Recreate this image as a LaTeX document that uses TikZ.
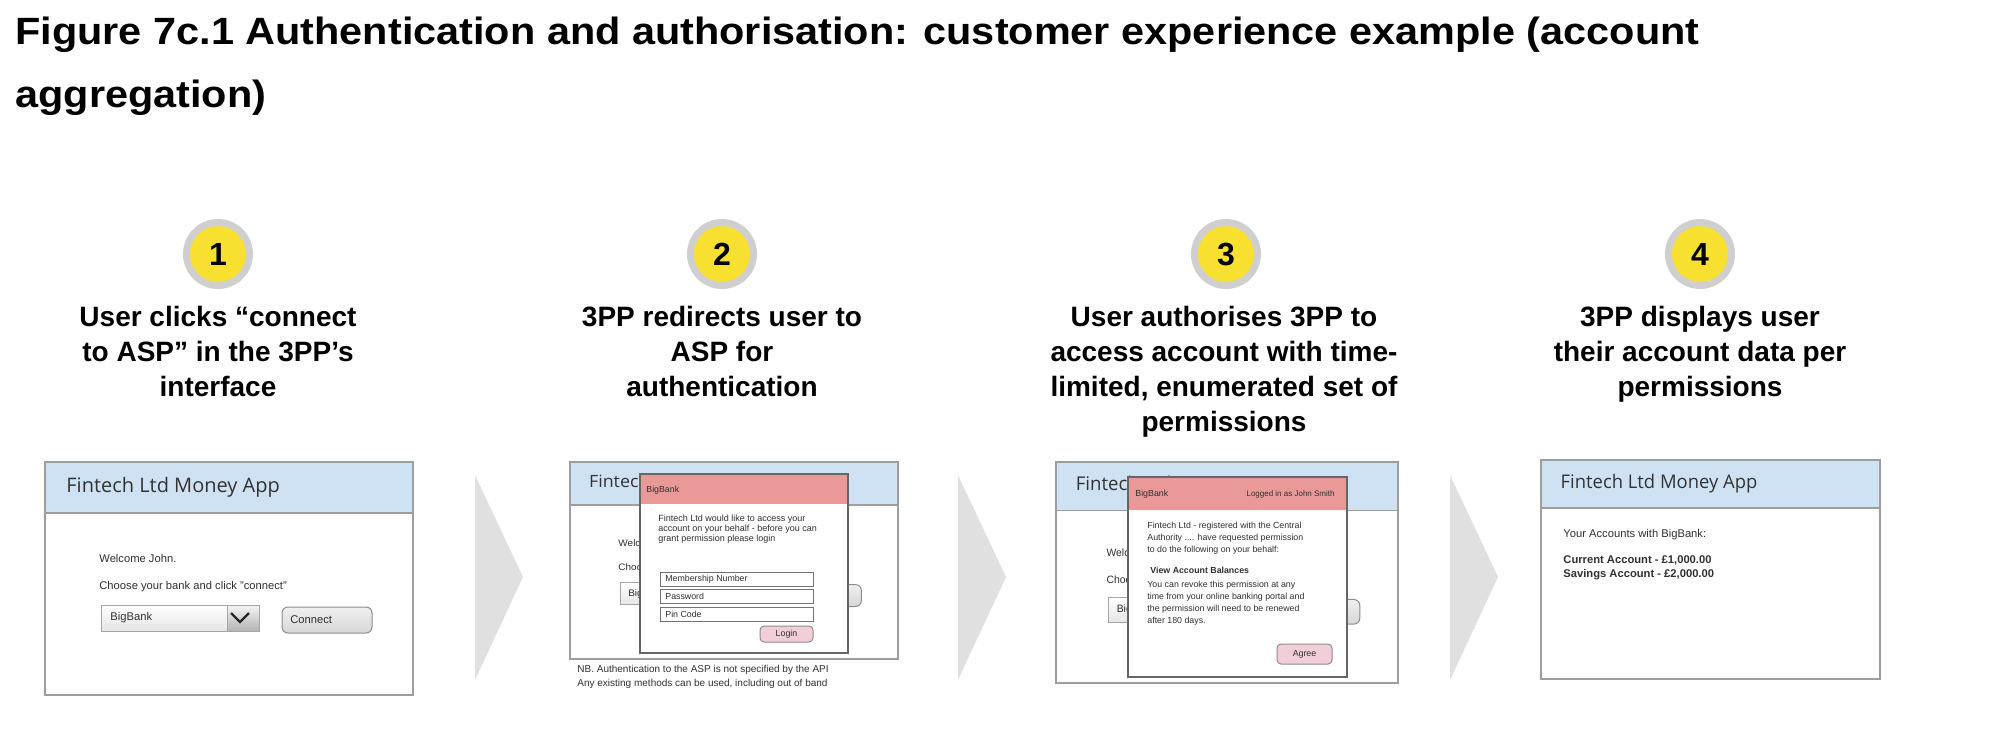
\documentclass[tikz,border=0pt]{standalone}
\usepackage{fontspec}
\setmainfont{Liberation Sans}
\newfontfamily\appfont{Open Sans}
\newfontfamily\figfont[FakeStretch=1.09]{Liberation Sans}
\usetikzlibrary{positioning,calc}

\definecolor{headblue}{HTML}{CFE2F3}
\definecolor{framegray}{HTML}{9E9E9E}
\definecolor{bankred}{HTML}{EA9999}
\definecolor{btnpink}{HTML}{F2CFD8}
\definecolor{chevgray}{HTML}{E0E0E0}
\definecolor{ringgray}{HTML}{CFCFCF}
\definecolor{stepyellow}{HTML}{F8E030}
\definecolor{mocktext}{HTML}{303030}

\tikzset{
  figtitle/.style={anchor=north west, inner sep=0pt, align=left,
    font=\figfont\fontsize{19}{31.5}\selectfont\bfseries},
  stepnum/.style={circle, fill=stepyellow, draw=ringgray, line width=3.5pt,
    minimum size=31.5pt, inner sep=0pt, font=\fontsize{16}{16}\selectfont\bfseries},
  steplabel/.style={anchor=north, inner sep=0pt, align=center,
    font=\fontsize{14}{17.5}\selectfont\bfseries},
  chevron/.style={fill=chevgray},
  appbox/.style={draw=framegray, line width=0.8pt},
  apptitle/.style={anchor=west, inner sep=0pt, text=black!80,
    font=\appfont\fontsize{10}{12}\selectfont},
  mocktxt/.style={anchor=west, inner sep=0pt, text=mocktext,
    font=\fontsize{5.6}{7}\selectfont},
  poptxt/.style={anchor=north west, inner sep=0pt, align=left, text=mocktext,
    font=\fontsize{4.4}{6}\selectfont},
  popbox/.style={draw=black!60, line width=0.6pt},
  field/.style={draw=black!55, fill=white, line width=0.4pt},
  btn/.style={draw=black!45, rounded corners=2pt, line width=0.5pt},
  % the money app screen, drawn at the size of the first screen
  pics/appframe/.style={code={
    \fill[white] (0,0) rectangle (368,233);
    \fill[headblue] (0,0) rectangle (368,51);
    \draw[appbox] (0,0) rectangle (368,233) (0,51) -- (368,51);
    \node[apptitle] (-title) at (21,25) {Fintech Ltd Money App};
  }},
  pics/appbody/.style={code={
    \node[mocktxt] (-welcome) at (54,96) {Welcome John.};
    \node[mocktxt] (-choose) at (54,125) {Choose your bank and click "connect"};
    \shadedraw[draw=black!35, line width=0.4pt, top color=white, bottom color=black!10] (56,143) rectangle (182,169);
    \shadedraw[draw=black!35, line width=0.4pt, top color=black!4, bottom color=black!30] (182,143) rectangle (214,169);
    \draw[black!85, line width=1.1pt] (186,151) -- (195,160) -- (204,151);
    \node[mocktxt] (-bank) at (65,156) {BigBank};
    \shadedraw[draw=black!45, line width=0.5pt, rounded corners=3pt, top color=black!6, bottom color=black!16] (237,145) rectangle (327,171);
    \node[mocktxt] (-connect) at (245,158) {Connect};
  }}
}

\begin{document}
\begin{tikzpicture}[x=0.5pt, y=-0.5pt]
  \useasboundingbox (0,0) rectangle (1996,740);
  \node[figtitle] (title) at (15,17) {Figure 7c.1 Authentication and authorisation: customer experience example (account\\aggregation)};

  % numbered steps
  \node[stepnum] (s1) at (218,254) {1};
  \node[stepnum] (s2) at (722,254) {2};
  \node[stepnum] (s3) at (1226,254) {3};
  \node[stepnum] (s4) at (1700,254) {4};
  \node[steplabel] (l1) at (218,306) {User clicks ``connect\\to ASP'' in the 3PP’s\\interface};
  \node[steplabel] (l2) at (722,306) {3PP redirects user to\\ASP for\\authentication};
  \node[steplabel] (l3) at (1224,306) {User authorises 3PP to\\access account with time-\\limited, enumerated set of\\permissions};
  \node[steplabel] (l4) at (1700,306) {3PP displays user\\their account data per\\permissions};

  % chevrons between the screens
  \foreach \cx in {475,958,1450}
    \fill[chevron] (\cx,475) -- ++(48,102) -- ++(-48,103) -- cycle;

  % screen 1
  \pic (appA) at (45,462) {appframe};
  \pic (appA) at (45,462) {appbody};

  % screen 2: bank login over the app
  \pic[xscale=0.891, yscale=0.845, transform shape] (appB) at (570,462) {appframe};
  \pic[xscale=0.891, yscale=0.845, transform shape] (appB) at (570,462) {appbody};
  \fill[white] (640,474) rectangle (848,653);
  \fill[bankred] (640,474) rectangle (848,504);
  \draw[popbox] (640,474) rectangle (848,653);
  \node[mocktxt, font=\fontsize{4.4}{5}\selectfont] (bank2) at (646,490) {BigBank};
  \node[poptxt, font=\fontsize{4.5}{5}\selectfont] (ask2) at (658,515) {Fintech Ltd would like to access your\\account on your behalf - before you can\\grant permission please login};
  \foreach \fy/\ft [count=\i] in {572/Membership Number, 589/Password, 607/Pin Code}{
    \draw[field] (660,\fy) rectangle (813,\fy+14);
    \node[poptxt, anchor=west] (field\i) at (665,\fy+7) {\ft};
  }
  \draw[btn, fill=btnpink] (760,626) rectangle (813,642);
  \node[poptxt, anchor=center] (login) at (786.5,634) {Login};
  \node[poptxt, font=\fontsize{5}{7}\selectfont] (nb) at (577,665) {NB. Authentication to the ASP is not specified by the API\\Any existing methods can be used, including out of band};

  % screen 3: consent over the app
  \pic[xscale=0.929, yscale=0.948, transform shape] (appC) at (1056,462) {appframe};
  \pic[xscale=0.929, yscale=0.948, transform shape] (appC) at (1056,462) {appbody};
  \fill[white] (1128,477) rectangle (1347,677);
  \fill[bankred] (1128,477) rectangle (1347,510);
  \draw[popbox] (1128,477) rectangle (1347,677);
  \node[mocktxt, font=\fontsize{4.4}{5}\selectfont] (bank3) at (1135,494) {BigBank};
  \node[mocktxt, anchor=east, font=\fontsize{4}{5}\selectfont] (user3) at (1335,494) {Logged in as John Smith};
  \node[poptxt] (reg3) at (1147,522) {Fintech Ltd - registered with the Central\\Authority .... have requested permission\\to do the following on your behalf:};
  \node[poptxt, anchor=west, font=\fontsize{4.4}{6}\selectfont\bfseries] (view3) at (1150,570) {View Account Balances};
  \node[poptxt] (revoke3) at (1147,581) {You can revoke this permission at any\\time from your online banking portal and\\the permission will need to be renewed\\after 180 days.};
  \draw[btn, fill=btnpink] (1277,644) rectangle (1332,664);
  \node[poptxt, anchor=center] (agree) at (1304.5,654) {Agree};

  % screen 4: balances
  \pic[xscale=0.921, yscale=0.94, transform shape] (appD) at (1541,460) {appframe};
  \node[mocktxt] (accts) at (1563,535) {Your Accounts with BigBank:};
  \node[mocktxt, anchor=north west, align=left, font=\fontsize{5.6}{7}\selectfont\bfseries] (bal) at (1563,555) {Current Account - £1,000.00\\Savings Account - £2,000.00};
\end{tikzpicture}
\end{document}
